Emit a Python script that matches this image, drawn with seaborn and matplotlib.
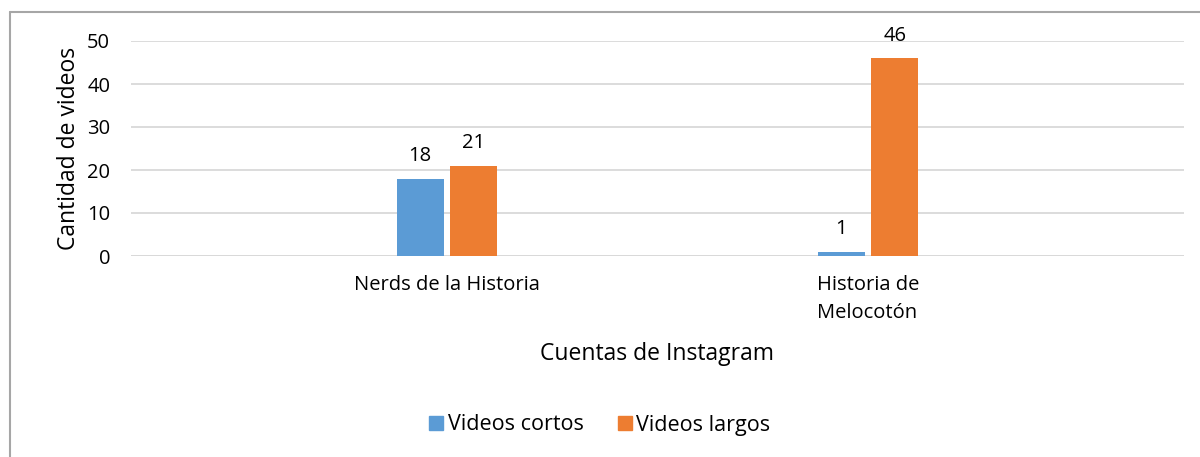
import pandas as pd
import matplotlib.pyplot as plt
import seaborn as sns
from matplotlib.lines import Line2D

# Data
cuentas = ["Nerds de la Historia", "Historia de\nMelocotón"]
videos_cortos = [18, 1]
videos_largos = [21, 46]
series = ["Videos cortos", "Videos largos"]
colores = ["#5B9BD5", "#ED7D31"]

df = pd.DataFrame({
    "cuenta": cuentas * 2,
    "tipo": [series[0]] * 2 + [series[1]] * 2,
    "valor": videos_cortos + videos_largos,
})

sns.set_theme(style="white")
plt.rcParams["font.family"] = ["Open Sans", "DejaVu Sans"]
plt.rcParams["text.color"] = "black"

fig = plt.figure(figsize=(12, 4.57), dpi=100)
ax = fig.add_axes([131 / 1200, 1 - 256 / 457, (1184 - 131) / 1200, (256 - 41) / 457])

sns.barplot(data=df, x="cuenta", y="valor", hue="tipo", palette=colores,
            width=0.254, gap=0.12, ax=ax, legend=False, saturation=1, linewidth=0)

ax.set_xlim(-0.75, 1.75)
ax.set_ylim(0, 50)
ax.set_yticks(range(0, 51, 10))
ax.yaxis.grid(True, color="#D9D9D9", linewidth=1.3)
ax.set_axisbelow(True)
for s in ax.spines.values():
    s.set_visible(False)
ax.axhline(0, color="#D9D9D9", linewidth=1.3, zorder=0.5)
ax.tick_params(axis="both", length=0, labelsize=14.5, colors="black")
ax.tick_params(axis="y", pad=15)
ax.tick_params(axis="x", pad=14)
for lbl in ax.get_xticklabels():
    lbl.set_linespacing(1.5)
    lbl.set_multialignment("left")

for cont in ax.containers:
    ax.bar_label(cont, padding=9, fontsize=14.5, color="black")

ax.set_xlabel("Cuentas de Instagram", fontsize=16.5, labelpad=14, color="black")
ax.set_ylabel("Cantidad de videos", fontsize=16.5, labelpad=4, color="black")

handles = [plt.Rectangle((0, 0), 1, 1, color=c) for c in colores]
fig.legend(handles, series, loc="center", bbox_to_anchor=(0.5, 1 - 425 / 457),
           ncol=2, frameon=False, fontsize=15.5, handlelength=0.65,
           handleheight=0.65, handletextpad=0.2, columnspacing=1.6)

# Chart border (top and left visible as in the reference)
fig.add_artist(Line2D([10 / 1200, 10 / 1200], [0, 1 - 12 / 457],
                      transform=fig.transFigure, color="#A6A6A6", linewidth=1.5))
fig.add_artist(Line2D([10 / 1200, 1], [1 - 12 / 457, 1 - 12 / 457],
                      transform=fig.transFigure, color="#A6A6A6", linewidth=1.5))

plt.savefig("out.png", dpi=100)
